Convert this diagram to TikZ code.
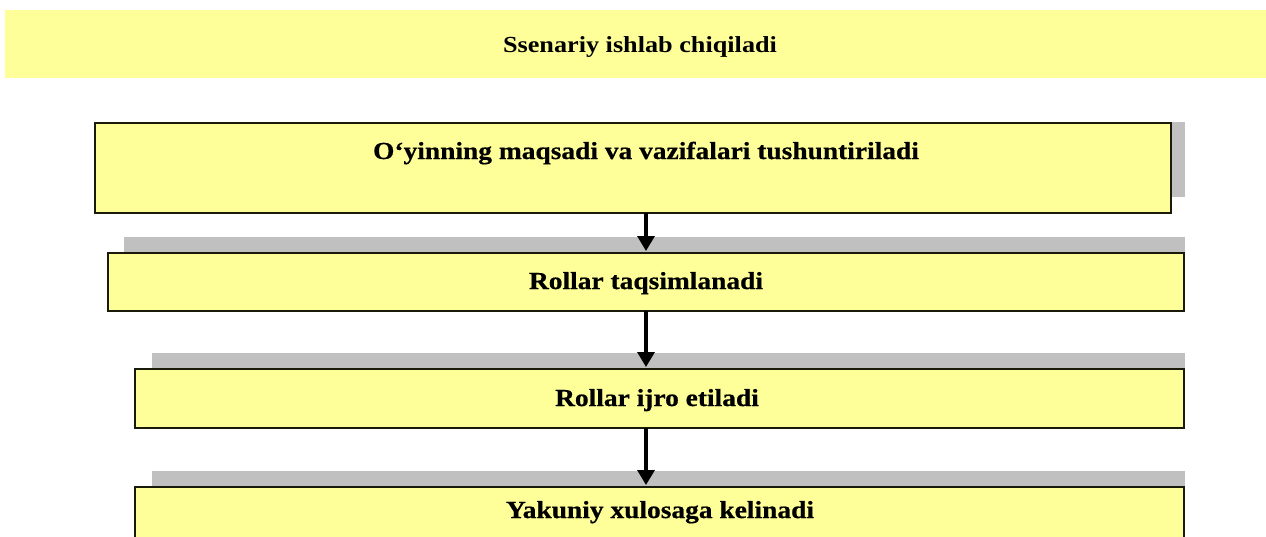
\documentclass[tikz,border=0pt]{standalone}
\usepackage{fontspec}
\setmainfont{Liberation Serif}
\newfontfamily\widefont[FakeStretch=1.12,FakeBold=0.6]{Liberation Serif}
\newfontfamily\titlefont[FakeStretch=1.14]{Liberation Serif}
\usetikzlibrary{arrows.meta}
\definecolor{boxyellow}{HTML}{FFFF99}
\definecolor{shadowgray}{HTML}{C0C0C0}
\definecolor{edgedark}{HTML}{1A1A0A}
\tikzset{
  stepbox/.style={draw=edgedark, line width=1.8pt, fill=boxyellow},
  lbl/.style={anchor=base, inner sep=0pt, font=\widefont\bfseries\fontsize{24.5}{29}\selectfont},
  flow/.style={draw=black, line width=3.2pt, -{Triangle[length=15pt,width=17pt]}}
}
\begin{document}
\begin{tikzpicture}[x=1pt,y=-1pt]
\useasboundingbox (0,0) rectangle (1266,536);
\fill[white] (0,0) rectangle (1266,536);
% banner
\fill[boxyellow] (5,10) rectangle (1266,78);
\node[anchor=base, inner sep=0pt, font=\titlefont\bfseries\fontsize{23}{27}\selectfont] (title) at (640,52) {Ssenariy ishlab chiqiladi};
% shadows
\fill[shadowgray] (110,122) rectangle (1185,197);
\fill[shadowgray] (124,237) rectangle (1185,295);
\fill[shadowgray] (152,353) rectangle (1185,412);
\fill[shadowgray] (152,471) rectangle (1185,560);
% boxes
\draw[stepbox] (95,123) rectangle (1171,213);
\coordinate (b1s) at (646,213);
\coordinate (b2n) at (646,253);
\draw[stepbox] (108,253) rectangle (1184,311);
\coordinate (b2s) at (646,311);
\coordinate (b3n) at (646,369);
\draw[stepbox] (135,369) rectangle (1184,428);
\coordinate (b3s) at (646,428);
\coordinate (b4n) at (646,487);
\draw[stepbox] (135,487) rectangle (1184,560);
% labels
\node[lbl] (t1) at (646,159) {O‘yinning maqsadi va vazifalari tushuntiriladi};
\node[lbl] (t2) at (646,289) {Rollar taqsimlanadi};
\node[lbl] (t3) at (657,406) {Rollar ijro etiladi};
\node[lbl] (t4) at (660,518) {Yakuniy xulosaga kelinadi};
% arrows
\draw[flow, shorten >=2pt] (b1s) -- (b2n);
\draw[flow, shorten >=2pt] (b2s) -- (b3n);
\draw[flow, shorten >=2pt] (b3s) -- (b4n);
\end{tikzpicture}
\end{document}
